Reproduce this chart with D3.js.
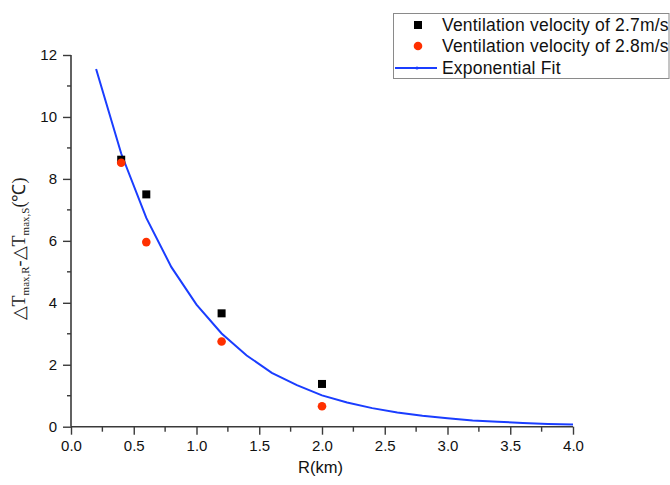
<!DOCTYPE html>
<html>
<head>
<meta charset="utf-8">
<script src="https://cdn.jsdelivr.net/npm/d3@7"></script>
<style>
  html, body { margin: 0; padding: 0; background: #fff; }
  svg { display: block; }
</style>
</head>
<body>
<svg id="chart" width="670" height="485"></svg>
<script>
// Measured data: temperature difference against distance R
const radiusKm = [0.4, 0.6, 1.2, 2.0];
const v27 = [8.62, 7.50, 3.66, 1.38];
const v28 = [8.52, 5.96, 2.75, 0.66];

// Exponential fit curve sampled every 0.2 km
const fitX = [0.2, 0.4, 0.6, 0.8, 1.0, 1.2, 1.4, 1.6, 1.8, 2.0,
              2.2, 2.4, 2.6, 2.8, 3.0, 3.2, 3.4, 3.6, 3.8, 4.0];
const fitY = [11.55, 8.82, 6.74, 5.15, 3.94, 3.01, 2.30, 1.74, 1.34, 1.01,
              0.78, 0.60, 0.46, 0.35, 0.27, 0.20, 0.16, 0.12, 0.09, 0.07];

const xMajor = [0, 0.5, 1.0, 1.5, 2.0, 2.5, 3.0, 3.5, 4.0];
const xMinor = [0.25, 0.75, 1.25, 1.75, 2.25, 2.75, 3.25, 3.75];
const yMajor = [0, 2, 4, 6, 8, 10, 12];
const yMinor = [1, 3, 5, 7, 9, 11];

const legendLabels = ["Ventilation velocity of 2.7m/s", "Ventilation velocity of 2.8m/s", "Exponential Fit"];

const svg = d3.select("#chart");
const x = d3.scaleLinear().domain([0, 4]).range([71, 573]);
const y = d3.scaleLinear().domain([0, 12]).range([426.7, 55]);

const axisColor = "#3a3a3a";
const sans = "'Liberation Sans', Arial, sans-serif";
const BLUE = "#1a3dff", RED = "#ff3000";

// Bottom axis
const gx = svg.append("g").attr("transform", `translate(0,${y(0)})`)
  .call(d3.axisBottom(x).tickValues(xMajor).tickFormat(d3.format(".1f")).tickSize(8).tickPadding(6));
gx.append("g").selectAll("line").data(xMinor).join("line")
  .attr("x1", d => x(d)).attr("x2", d => x(d)).attr("y1", 0).attr("y2", 5);

// Left axis
const gy = svg.append("g").attr("transform", `translate(${x(0)},0)`)
  .call(d3.axisLeft(y).tickValues(yMajor).tickFormat(d3.format("d")).tickSize(8).tickPadding(6));
gy.append("g").selectAll("line").data(yMinor).join("line")
  .attr("y1", d => y(d)).attr("y2", d => y(d)).attr("x1", 0).attr("x2", -4);

[gx, gy].forEach(g => {
  g.select(".domain").remove();
  g.selectAll("line").attr("stroke", axisColor).attr("stroke-width", 1.4);
  g.selectAll("text").attr("fill", "#111").style("font-family", sans).style("font-size", "15px");
});
// plain axis lines without end caps
svg.append("line").attr("x1", x(0)).attr("x2", x(4)).attr("y1", y(0)).attr("y2", y(0))
  .attr("stroke", axisColor).attr("stroke-width", 1.6);
svg.append("line").attr("x1", x(0)).attr("x2", x(0)).attr("y1", y(0)).attr("y2", y(12))
  .attr("stroke", axisColor).attr("stroke-width", 1.6);

// Fit curve
const fitPts = fitX.map((d, i) => [d, fitY[i]]);
svg.append("path").datum(fitPts)
  .attr("fill", "none").attr("stroke", BLUE).attr("stroke-width", 2)
  .attr("d", d3.line().x(d => x(d[0])).y(d => y(d[1])));

// 2.7 m/s squares
svg.append("g").selectAll("rect").data(radiusKm).join("rect")
  .attr("x", (d) => x(d) - 4).attr("y", (d, i) => y(v27[i]) - 4)
  .attr("width", 8).attr("height", 8).attr("fill", "#000");

// 2.8 m/s circles
svg.append("g").selectAll("circle").data(radiusKm).join("circle")
  .attr("cx", d => x(d)).attr("cy", (d, i) => y(v28[i])).attr("r", 4.3)
  .attr("fill", RED);

// Axis titles
svg.append("text").attr("x", 320.5).attr("y", 473).attr("text-anchor", "middle")
  .style("font-family", sans).style("font-size", "16.5px").attr("fill", "#111").text("R(km)");

const serif = "'Liberation Serif', 'Times New Roman', serif";
const yt = svg.append("text")
  .attr("transform", "translate(25,249) rotate(-90)")
  .attr("text-anchor", "middle")
  .style("font-family", serif).style("font-size", "18px").attr("fill", "#222");
yt.append("tspan").text("\u25B3T");
yt.append("tspan").attr("dy", 4).style("font-size", "11px").text("max,R");
yt.append("tspan").attr("dy", -4).text("-\u25B3T");
yt.append("tspan").attr("dy", 4).style("font-size", "11px").text("max,S");
yt.append("tspan").attr("dy", -4).text("(\u2103)");

// Legend
const lg = svg.append("g");
lg.append("rect").attr("x", 393.5).attr("y", 13.5).attr("width", 275.5).attr("height", 65)
  .attr("fill", "#fff").attr("stroke", "#8a8a8a").attr("stroke-width", 1);
const rowsY = [25, 46, 68];
lg.append("rect").attr("x", 414).attr("y", rowsY[0] - 4).attr("width", 8).attr("height", 8).attr("fill", "#000");
lg.append("circle").attr("cx", 418).attr("cy", rowsY[1]).attr("r", 4.3).attr("fill", RED);
lg.append("line").attr("x1", 395).attr("x2", 437).attr("y1", rowsY[2]).attr("y2", rowsY[2])
  .attr("stroke", BLUE).attr("stroke-width", 2);
lg.append("circle").attr("cx", 417).attr("cy", rowsY[2]).attr("r", 1.6).attr("fill", BLUE);
lg.selectAll("text.lbl").data(legendLabels).join("text").attr("class", "lbl")
  .attr("x", 442).attr("y", (d, i) => rowsY[i]).attr("dy", "0.36em")
  .style("font-family", sans).style("font-size", "17.5px").style("letter-spacing", "0.2px")
  .attr("fill", "#111").text(d => d);
</script>
</body>
</html>
